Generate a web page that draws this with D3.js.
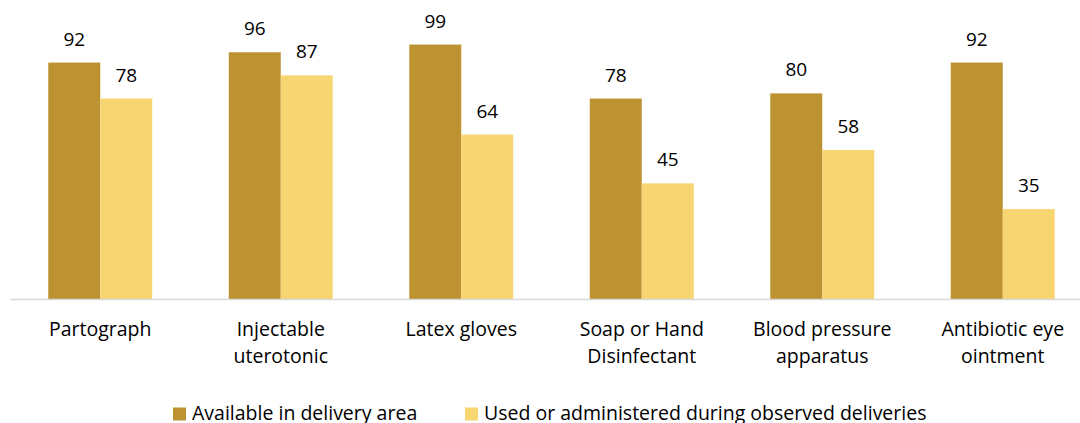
<!DOCTYPE html>
<html><head><meta charset="utf-8">
<script src="https://cdn.jsdelivr.net/npm/d3@7"></script>
<style>body{margin:0;background:#fff}svg{display:block}text{font-family:"Open Sans",sans-serif;fill:#000}</style>
</head><body>
<svg id="c" width="1080" height="423"></svg>
<script>
const categories = [["Partograph"],["Injectable","uterotonic"],["Latex gloves"],["Soap or Hand","Disinfectant"],["Blood pressure","apparatus"],["Antibiotic eye","ointment"]];
const seriesNames = ["Available in delivery area","Used or administered during observed deliveries"];
const available = [92,96,99,78,80,92];
const used = [78,87,64,45,58,35];
const colors = ["#BD9230","#F7D570"];

const svg = d3.select("#c");
const keys = categories.map((c,i)=>i);
const x0 = d3.scaleBand().domain(keys).range([10,1093]).padding(0);
const x1 = d3.scaleBand().domain([0,1]).range([0,x0.bandwidth()]).paddingInner(0).paddingOuter(0.736);
const y = d3.scaleLinear().domain([0,100]).range([299,42]);
const series = [available, used];

const g = svg.append("g");
series.forEach((vals,s)=>{
  g.selectAll(".b"+s).data(vals).enter().append("rect")
    .attr("x",(d,i)=>x0(i)+x1(s)).attr("width",x1.bandwidth())
    .attr("y",d=>y(d)).attr("height",d=>y(0)-y(d)).attr("fill",colors[s]);
  g.selectAll(".l"+s).data(vals).enter().append("text")
    .attr("x",(d,i)=>x0(i)+x1(s)+x1.bandwidth()/2).attr("y",d=>y(d)-17)
    .attr("text-anchor","middle").attr("font-size","19px").text(d=>d);
});
svg.append("line").attr("x1",10).attr("x2",1080).attr("y1",299.5).attr("y2",299.5).attr("stroke","#D9D9D9").attr("stroke-width",1.5);

categories.forEach((lines,i)=>{
  lines.forEach((ln,j)=>svg.append("text").attr("x",x0(i)+x0.bandwidth()/2).attr("y",336+j*26.8)
    .attr("text-anchor","middle").attr("font-size","19.5px").text(ln));
});

const legX = [173,465];
seriesNames.forEach((n,s)=>{
  svg.append("rect").attr("x",legX[s]).attr("y",407.5).attr("width",13).attr("height",13).attr("fill",colors[s]);
  svg.append("text").attr("x",legX[s]+19).attr("y",419.5).attr("font-size","19.5px").text(n);
});
</script>
</body></html>
